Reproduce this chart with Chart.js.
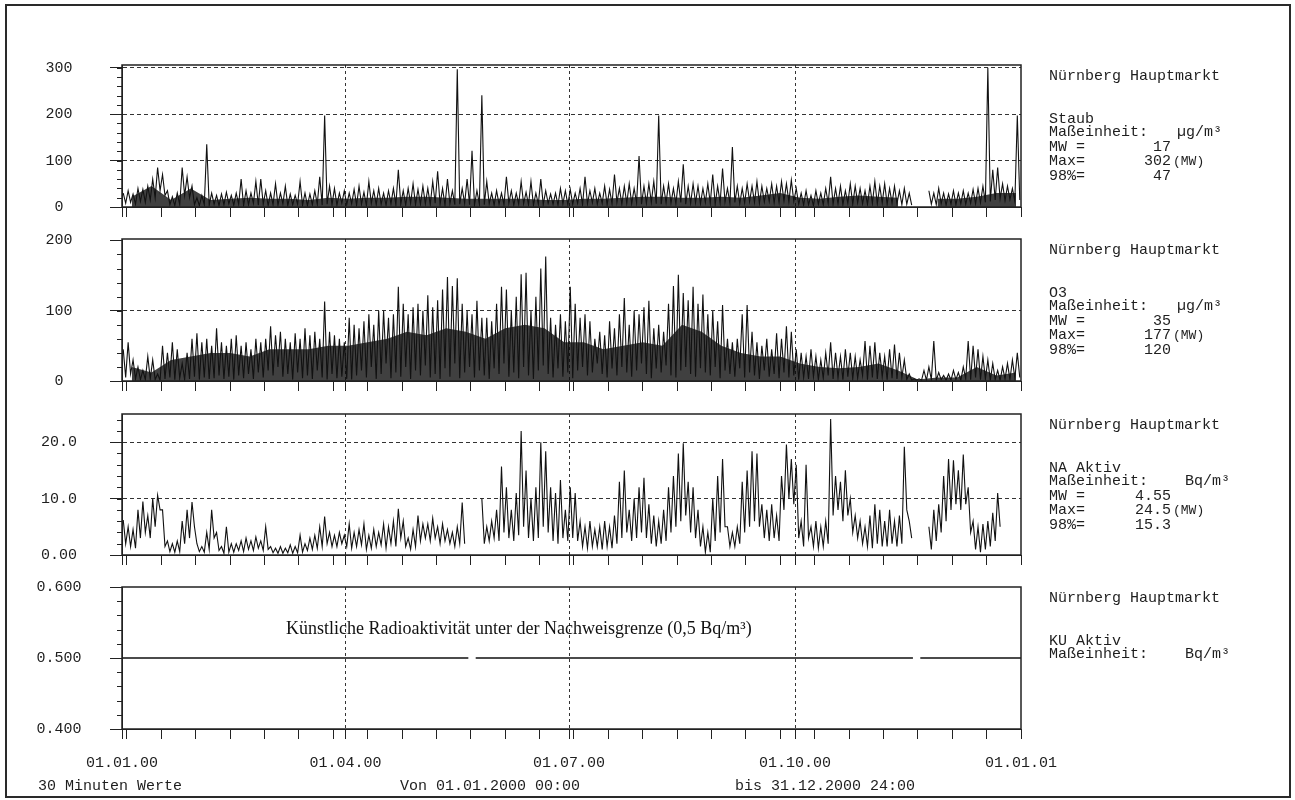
<!DOCTYPE html>
<html><head><meta charset="utf-8">
<script src="https://cdn.jsdelivr.net/npm/chart.js@4.4.1/dist/chart.umd.min.js"></script>
<style>
html,body{margin:0;padding:0;background:#fff;}
body{width:1295px;height:800px;position:relative;overflow:hidden;font-family:"Liberation Mono","Courier New",monospace;color:#1e1e1e;}
#frame{position:absolute;left:5px;top:4px;width:1286px;height:794px;border:2px solid #2a2a2a;box-sizing:border-box;}
canvas{position:absolute;left:0;}
.t{position:absolute;font-size:15px;line-height:16px;white-space:pre;}
.note{position:absolute;font-family:"Liberation Serif","Times New Roman",serif;font-size:18px;line-height:20px;white-space:nowrap;color:#111;}
</style></head><body>
<div id="frame"></div>
<canvas id="c1"></canvas>
<canvas id="c2"></canvas>
<canvas id="c3"></canvas>
<canvas id="c4"></canvas>
<div id="texts"></div>
<script>
// ---- x axis (days since 01.01.2000) ----
const quarterDays = [0, 91, 182, 274, 366];
const quarterLabels = ['01.01.00', '01.04.00', '01.07.00', '01.10.00', '01.01.01'];
const weekTickDays = [2,16,30,44,58,72,86,100,114,128,142,156,170,184,198,212,226,240,254,268,282,296,310,324,338,352];

// ---- series: 2-day bins, upper and lower envelope of the 30-minute values ----
const staubHigh = [
 30,35,28,40,38,45,60,85,70,35,
 22,30,85,65,45,20,25,135,30,25,
 28,32,25,30,60,35,30,55,60,35,
 30,50,30,45,28,25,55,30,28,35,
 65,197,45,40,30,35,30,38,45,32,
 55,35,40,30,35,40,80,35,40,50,
 38,45,40,55,77,40,60,35,297,40,
 60,121,35,241,55,30,35,30,65,35,
 30,55,32,55,30,60,35,28,30,40,
 35,38,30,40,65,35,40,30,45,38,
 70,40,45,50,40,110,45,50,55,197,
 45,50,40,55,92,45,50,45,40,50,
 70,45,83,40,129,45,40,50,45,55,
 45,40,50,45,55,50,58,40,30,35,
 25,35,30,40,65,40,45,35,50,45,
 40,35,45,55,45,50,40,45,35,40,
 30,null,null,null,35,30,40,30,28,35,
 30,35,30,38,40,45,300,80,85,50,
 45,40,197];
const staubLow = [
 8,10,6,12,10,15,20,35,25,5,
 3,5,25,20,5,3,5,4,6,3,
 5,7,4,6,3,5,8,4,6,3,
 5,4,7,3,5,6,4,3,5,6,
 4,6,5,4,8,5,7,4,6,3,
 8,5,6,4,7,5,6,4,8,5,
 6,7,5,8,6,4,7,5,6,8,
 5,4,6,5,7,4,6,5,8,4,
 6,7,5,4,6,5,8,6,4,7,
 5,6,8,5,7,9,6,8,5,7,
 10,6,8,7,9,6,8,10,7,6,
 9,8,7,10,6,8,9,7,10,8,
 6,9,11,8,10,7,9,12,10,8,
 11,12,9,10,13,11,12,6,4,5,
 3,6,5,8,6,7,5,8,6,9,
 7,6,8,7,9,6,8,7,5,6,
 4,null,null,null,6,5,7,4,6,5,
 7,6,8,7,9,10,12,15,18,14,
 16,12,15];
// upper edge of the dense (solid) core of the trace, 8-day bins
const staubCore = [22,45,15,40,15,18,20,18,18,15,20,18,20,20,22,22,20,18,18,18,18,15,15,18,18,20,22,22,20,20,22,20,25,30,20,18,22,25,22,20,null,18,18,22,30,30];

const o3High = [
 45,55,30,20,15,35,30,10,50,40,
 55,45,25,40,60,68,55,60,50,75,
 55,50,60,65,50,55,45,60,55,60,
 78,65,70,60,55,68,60,75,65,70,
 60,113,70,65,60,55,90,80,75,85,
 95,80,100,100,90,95,134,110,95,105,
 110,100,122,105,115,130,148,135,146,110,
 100,95,114,90,90,85,110,134,130,100,
 120,152,154,100,120,160,177,90,80,95,
 85,134,110,90,95,85,60,70,65,85,
 75,95,118,80,100,95,105,114,75,80,
 70,110,135,151,125,115,134,110,123,95,
 100,85,108,60,55,60,95,108,70,55,
 50,60,45,68,60,78,70,45,40,35,
 45,35,30,40,55,40,35,45,40,35,
 30,57,50,55,40,35,45,52,40,30,
 10,3,3,15,20,57,12,8,10,15,
 12,20,57,50,45,35,30,25,15,20,
 25,30,40];
const o3Low = [
 5,10,3,2,2,3,2,1,3,5,
 2,4,2,3,6,2,5,3,4,8,
 3,6,2,8,4,10,3,12,5,15,
 8,20,6,10,2,12,4,8,3,15,
 5,2,10,4,6,3,2,8,15,5,
 20,3,10,25,4,12,6,20,3,15,
 8,22,5,10,3,18,6,25,4,12,
 20,5,15,8,3,18,10,25,6,12,
 4,20,8,3,15,22,10,5,18,6,
 12,4,15,20,8,12,25,10,5,18,
 8,20,12,6,15,25,10,4,18,12,
 22,8,5,15,20,10,6,18,12,8,
 20,4,15,10,6,18,5,12,8,3,
 15,6,10,4,12,5,8,2,5,3,
 6,2,4,8,3,5,2,6,3,4,
 8,2,5,3,6,2,4,3,5,2,
 1,1,1,1,2,1,2,1,1,2,
 1,3,2,5,2,3,1,2,1,3,
 2,4,5];
const o3Core = [20,12,30,35,40,40,35,45,45,45,50,50,55,60,70,65,75,70,60,75,80,75,55,55,45,50,55,50,80,70,50,40,35,35,25,20,18,20,25,15,2,5,5,20,8,12];

const naHigh = [
 6.2,5,4.5,8,9.5,7,10,10.6,8,2.5,
 2,2.5,6,8,9.4,2,1.5,4,8,4,
 1.5,5,2,2,2.5,3,2.5,3.2,2.5,5,
 1.5,1.2,1.5,1.2,1.8,1.5,3.5,2,3,3.5,
 5,6.8,4,3.5,4,3.5,5.5,4,4.5,5.5,
 3.5,4.5,4,5.5,5,6,8.2,6,3,4.5,
 7,5.5,5.5,6.5,5,5.5,4.5,4,5,9.3,
 null,null,null,10,5,6,8,15.7,12,8,
 11,22,15,10,12,20,18.4,12,11,13.3,
 8,12,11,6,5,6,4.5,5,6,5,
 7,13,15,8,10,12,13.7,9,7,6,
 8,12,14,18,19.8,13,12,8,5,4,
 10,14,17,5,4,5,13,15,18.4,18,
 9,8,9,7,14,19.6,17,16,6,16,
 5,6,5,6,24.1,14,13,15,10,7,
 6,5,7,9,8,6,8,6,7,19.2,
 6,null,null,null,5,8,9,14,17,16.8,
 15,17.8,12,6,5,5.5,6,7.5,11,null,
 null,null,null];
const naLow = [
 2,1.5,1.2,3,4,3,5,8,1.5,0.6,
 0.5,0.6,2,3,5,0.6,0.5,1,3,0.8,
 0.3,0.5,0.5,0.8,0.6,1,0.8,1.2,0.8,1,
 0.4,0.3,0.3,0.4,0.3,0.4,0.5,0.8,1,1.2,
 1.5,2,1.5,1.5,2,1.5,1.2,1.5,1.8,1,
 1.2,1.5,1.8,1.2,2,1.5,3,1.5,1,1.5,
 2.5,3,2.5,3,2,2.5,2,1.5,2,2,
 null,null,null,2,2.5,3,2.5,4,3,2.5,
 3.5,5,3,2.5,3,5,4,2.5,2,3,
 2.5,3,2.5,1.5,1.2,1.5,1.5,1,1.5,1.2,
 2,3,4,2.5,3,4,3,2,1.5,2,
 2.5,4,5,6,7,4,3,1.5,0.5,0.5,
 2.5,4,5,1.5,1.5,2,4,5,6,5,
 3,2.5,3,2.5,8,10,9,3,1.5,3,
 1.5,1.2,1.5,2,7,8,6,7,4,3,
 2,1.5,1.2,2,1.5,1.5,2,1.5,2,8,
 3,null,null,null,1,2.5,4,6,8,9,
 8,9,4,1,0.5,1,1.5,2.5,5,null,
 null,null,null];
const kuDays = [0, 141, 142, 144, 322, 323, 325, 366];
const kuValues = [0.5, 0.5, null, 0.5, 0.5, null, 0.5, 0.5];

// ---- y tick values and labels ----
const staubTicks = [0, 100, 200, 300];
const staubTickLabels = ['0', '100', '200', '300'];
const o3Ticks = [0, 100, 200];
const o3TickLabels = ['0', '100', '200'];
const naTicks = [0, 10, 20];
const naTickLabels = ['0.00', '10.0', '20.0'];
const kuTicks = [0.4, 0.5, 0.6];
const kuTickLabels = ['0.400', '0.500', '0.600'];

// ---- side texts ----
const station = 'Nürnberg Hauptmarkt';
const compNames = ['Staub', 'O3', 'NA Aktiv', 'KU Aktiv'];
const compUnits = ['µg/m³', 'µg/m³', 'Bq/m³', 'Bq/m³'];
const compMW = ['17', '35', '4.55', null];
const compMax = ['302', '177', '24.5', null];
const comp98 = ['47', '120', '15.3', null];

function zigzag(hi, lo) {
  const pts = [];
  for (let k = 0; k < hi.length; k++) {
    pts.push({x: 2 * k + 0.5, y: hi[k]});
    pts.push({x: 2 * k + 1.5, y: lo[k]});
  }
  return pts;
}
function corePoints(core) {
  return core.map((v, j) => ({x: Math.min(8 * j + 4, 366), y: v}));
}

const FONT = "'Liberation Mono','Courier New',monospace";
const panels = [
  {id:'c1', top:65, bottom:207, min:0, max:306, ticks:staubTicks, labels:staubTickLabels, grid:[100,200,300], minorStep:20, pad:37.5, pts:zigzag(staubHigh, staubLow), core:corePoints(staubCore), xLab:false, lw:1.1},
  {id:'c2', top:239, bottom:381, min:0, max:202, ticks:o3Ticks, labels:o3TickLabels, grid:[100], minorStep:20, pad:37.5, pts:zigzag(o3High, o3Low), core:corePoints(o3Core), xLab:false, lw:1.1},
  {id:'c3', top:414, bottom:555, min:0, max:25, ticks:naTicks, labels:naTickLabels, grid:[10,20], minorStep:2, pad:33, pts:zigzag(naHigh, naLow), core:null, xLab:false, lw:1.1},
  {id:'c4', top:587, bottom:729, min:0.4, max:0.6, ticks:kuTicks, labels:kuTickLabels, grid:[], minorStep:0.02, pad:28.5, pts:kuDays.map((d,i)=>({x:d, y:kuValues[i]})), core:null, xLab:true, lw:1.5}
];

const boxPlugin = {
  id: 'box',
  afterDraw(chart, args, opts) {
    const {ctx, chartArea: a} = chart;
    const ys = chart.scales.y;
    ctx.save();
    ctx.strokeStyle = '#222';
    ctx.lineWidth = 1;
    const step = opts.minorStep;
    const n = Math.round((opts.max - opts.min) / step);
    for (let i = 1; i < n + 1; i++) {
      const v = opts.min + i * step;
      if (v > ys.max) break;
      const py = Math.round(ys.getPixelForValue(v)) + 0.5;
      ctx.beginPath(); ctx.moveTo(a.left - 5, py); ctx.lineTo(a.left, py); ctx.stroke();
    }
    ctx.lineWidth = 1.5;
    ctx.strokeRect(a.left, a.top, a.right - a.left, a.bottom - a.top);
    ctx.restore();
  }
};

panels.forEach(p => {
  const xH = p.xLab ? 50 : 15;
  const cv = document.getElementById(p.id);
  const h = 12 + (p.bottom - p.top) + xH;
  cv.width = 1295; cv.height = h;
  cv.style.width = '1295px'; cv.style.height = h + 'px';
  cv.style.top = (p.top - 12) + 'px';
  const datasets = [{data: p.pts, borderColor: '#111', borderWidth: p.lw, pointRadius: 0, tension: 0, spanGaps: false, order: 1}];
  if (p.core) datasets.push({data: p.core, borderWidth: 0, borderColor: 'rgba(0,0,0,0)', backgroundColor: 'rgba(10,10,10,0.78)', fill: 'origin', pointRadius: 0, tension: 0, spanGaps: false, order: 2});
  new Chart(cv, {
    type: 'line',
    data: {datasets},
    options: {
      responsive: false, animation: false, devicePixelRatio: 1,
      layout: {padding: {top: 12, right: 274, left: 0, bottom: 0}},
      plugins: {legend: {display: false}, tooltip: {enabled: false}, box: {minorStep: p.minorStep, min: p.min, max: p.max}},
      scales: {
        x: {
          type: 'linear', min: 0, max: 366,
          afterBuildTicks: s => { s.ticks = quarterDays.concat(weekTickDays).sort((a,b)=>a-b).map(v => ({value: v})); },
          afterFit: s => { s.height = xH; },
          grid: {drawOnChartArea: true, drawTicks: true, tickLength: 10, tickColor: '#222', tickWidth: 1, tickBorderDash: [],
                 color: c => (c.tick && [91,182,274].includes(c.tick.value)) ? '#333' : 'rgba(0,0,0,0)', lineWidth: 1},
          border: {display: true, color: '#222', width: 1, dash: [3, 3]},
          ticks: {display: p.xLab, autoSkip: false, maxRotation: 0, minRotation: 0, padding: 15,
                  font: {family: FONT, size: 15}, color: '#1e1e1e',
                  callback: v => { const i = quarterDays.indexOf(v); return i >= 0 ? quarterLabels[i] : ''; }}
        },
        y: {
          min: p.min, max: p.max,
          afterBuildTicks: s => { s.ticks = p.ticks.map(v => ({value: v})); },
          afterFit: s => { s.width = 122; s.paddingTop = 0; s.paddingBottom = 0; },
          grid: {drawOnChartArea: true, drawTicks: true, tickLength: 12, tickColor: '#222', tickBorderDash: [],
                 color: c => (c.tick && p.grid.some(g => Math.abs(g - c.tick.value) < 1e-9)) ? '#333' : 'rgba(0,0,0,0)', lineWidth: 1},
          border: {display: true, color: '#222', width: 1, dash: [4, 3]},
          ticks: {crossAlign: 'center', padding: p.pad, font: {family: FONT, size: 15}, color: '#1e1e1e',
                  callback: v => { const i = p.ticks.findIndex(t => Math.abs(t - v) < 1e-9); return i >= 0 ? p.labels[i] : ''; }}
        }
      }
    },
    plugins: [boxPlugin]
  });
});

// ---- texts ----
const T = document.getElementById('texts');
function addText(txt, left, cy, opts) {
  const d = document.createElement('div');
  d.className = 't';
  d.textContent = txt;
  d.style.top = (cy - 8) + 'px';
  if (opts && opts.right) { d.style.right = (1295 - left) + 'px'; d.style.textAlign = 'right'; }
  else d.style.left = left + 'px';
  if (opts && opts.size) d.style.fontSize = opts.size + 'px';
  T.appendChild(d);
}
panels.forEach((p, i) => {
  const t = p.top;
  addText(station, 1049, t + 12);
  addText(compNames[i], 1049, t + 55);
  addText('Maßeinheit:', 1049, t + 68);
  addText(compUnits[i], i < 2 ? 1177 : 1185, t + 68);
  if (compMW[i] !== null) {
    addText('MW =', 1049, t + 83);
    addText(compMW[i], 1171, t + 83, {right: true});
    addText('Max=', 1049, t + 97);
    addText(compMax[i], 1171, t + 97, {right: true});
    addText('(MW)', 1173, t + 97, {size: 13});
    addText('98%=', 1049, t + 112);
    addText(comp98[i], 1171, t + 112, {right: true});
  }
});
addText('30 Minuten Werte', 38, 787);
addText('Von 01.01.2000 00:00', 400, 787);
addText('bis 31.12.2000 24:00', 735, 787);
const note = document.createElement('div');
note.className = 'note';
note.textContent = 'Künstliche Radioaktivität unter der Nachweisgrenze (0,5 Bq/m³)';
note.style.left = '286px';
note.style.top = (628 - 10) + 'px';
T.appendChild(note);
</script>
</body></html>
